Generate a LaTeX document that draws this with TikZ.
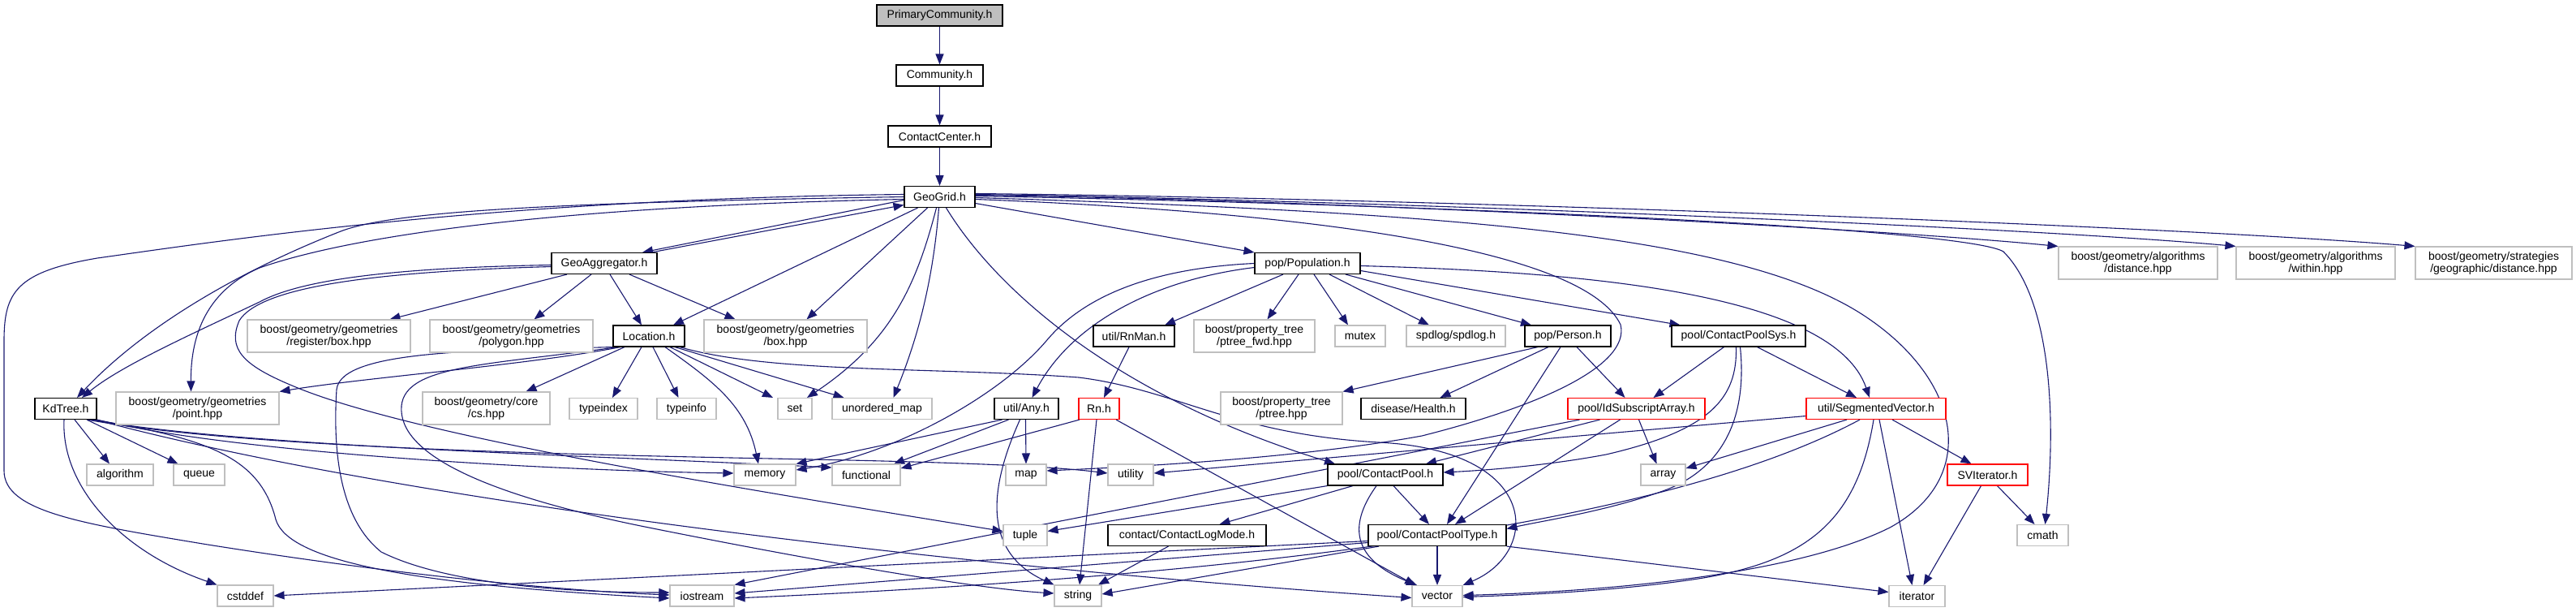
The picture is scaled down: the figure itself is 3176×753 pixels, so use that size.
\documentclass[tikz,border=0pt]{standalone}
\usepackage{fontspec}
\setmainfont{Liberation Sans}
\usetikzlibrary{arrows.meta}
\definecolor{edgeblue}{HTML}{191970}
\definecolor{extgrey}{HTML}{BFBFBF}
\definecolor{truncred}{HTML}{FF0000}
\definecolor{rootfill}{HTML}{BFBFBF}
\newcommand{\lab}{\fontsize{14}{15}\selectfont}
\pgfdeclarelayer{background}
\pgfsetlayers{background,main}
\begin{document}
\begin{tikzpicture}[x=1pt,y=-1pt,
  base/.style={draw, rectangle, inner sep=0pt, minimum height=26pt, fill=white, font=\lab, line width=1.1pt, align=center, text=black},
  doc/.style={base, draw=black},
  ext/.style={base, draw=extgrey},
  ext2/.style={ext, minimum height=40pt},
  trunc/.style={base, draw=truncred},
  e/.style={draw=edgeblue, line width=1.1pt, -{Triangle[length=13pt,width=10pt]}}]

% nodes
\node[doc, fill=rootfill, minimum width=155] (pc) at (1158.5,19) {PrimaryCommunity.h};
\node[doc, minimum width=107] (comm) at (1158.5,93) {Community.h};
\node[doc, minimum width=127] (cc) at (1158.5,168) {ContactCenter.h};
\node[doc, minimum width=87] (gg) at (1158.5,242.5) {GeoGrid.h};
\node[doc, minimum width=130] (ga) at (745,324.5) {GeoAggregator.h};
\node[doc, minimum width=130] (pop) at (1612,324.5) {pop/Population.h};
\node[ext2, minimum width=196] (dist) at (2636,324) {boost/geometry/algorithms\\/distance.hpp};
\node[ext2, minimum width=196] (within) at (2855,324) {boost/geometry/algorithms\\/within.hpp};
\node[ext2, minimum width=193] (strat) at (3074.5,324) {boost/geometry/strategies\\/geographic/distance.hpp};
\node[ext2, minimum width=201] (regbox) at (405.5,414) {boost/geometry/geometries\\/register/box.hpp};
\node[ext2, minimum width=201] (poly) at (630.5,414) {boost/geometry/geometries\\/polygon.hpp};
\node[doc, minimum width=88] (loc) at (800,414) {Location.h};
\node[ext2, minimum width=201] (box) at (968.5,414) {boost/geometry/geometries\\/box.hpp};
\node[doc, minimum width=100] (rnman) at (1398,414) {util/RnMan.h};
\node[ext2, minimum width=149] (ptfwd) at (1546.5,414) {boost/property\_tree\\/ptree\_fwd.hpp};
\node[ext, minimum width=62] (mutex) at (1677,414) {mutex};
\node[ext, minimum width=122] (spdlog) at (1795,414) {spdlog/spdlog.h};
\node[doc, minimum width=106] (person) at (1933,414) {pop/Person.h};
\node[doc, minimum width=165] (cps) at (2143.5,414) {pool/ContactPoolSys.h};
\node[doc, minimum width=76] (kd) at (81,503.5) {KdTree.h};
\node[ext2, minimum width=201] (point) at (243.5,503) {boost/geometry/geometries\\/point.hpp};
\node[ext2, minimum width=157] (cs) at (599.5,503) {boost/geometry/core\\/cs.hpp};
\node[ext, minimum width=84] (typeindex) at (744,503.5) {typeindex};
\node[ext, minimum width=73] (typeinfo) at (846.5,503.5) {typeinfo};
\node[ext, minimum width=42] (set) at (980,503.5) {set};
\node[ext, minimum width=123] (umap) at (1087.5,503.5) {unordered\_map};
\node[doc, minimum width=79] (any) at (1265.5,503.5) {util/Any.h};
\node[trunc, minimum width=50] (rn) at (1355,503.5) {Rn.h};
\node[ext2, minimum width=150] (ptree) at (1580,503) {boost/property\_tree\\/ptree.hpp};
\node[doc, minimum width=129] (health) at (1742.5,503.5) {disease/Health.h};
\node[trunc, minimum width=169] (isa) at (2017.5,503.5) {pool/IdSubscriptArray.h};
\node[trunc, minimum width=172] (sv) at (2313,503.5) {util/SegmentedVector.h};
\node[ext, minimum width=82] (algorithm) at (148,585) {algorithm};
\node[ext, minimum width=63] (queue) at (245.5,585) {queue};
\node[ext, minimum width=76] (memory) at (943,585) {memory};
\node[ext, minimum width=84] (functional) at (1068,585) {functional};
\node[ext, minimum width=50] (map) at (1265,585) {map};
\node[ext, minimum width=56] (utility) at (1394,585) {utility};
\node[doc, minimum width=142] (cp) at (1708,585) {pool/ContactPool.h};
\node[ext, minimum width=55] (array) at (2050.5,585) {array};
\node[trunc, minimum width=99] (svit) at (2450.5,585) {SVIterator.h};
\node[ext, minimum width=54] (tuple) at (1264,659.5) {tuple};
\node[doc, minimum width=195] (clm) at (1463.5,659.5) {contact/ContactLogMode.h};
\node[doc, minimum width=170] (cpt) at (1772,659.5) {pool/ContactPoolType.h};
\node[ext, minimum width=63] (cmath) at (2518.5,659.5) {cmath};
\node[ext, minimum width=69] (cstddef) at (302.5,734) {cstddef};
\node[ext, minimum width=79] (iostream) at (865.5,734) {iostream};
\node[ext, minimum width=58] (string) at (1329,734) {string};
\node[ext, minimum width=62] (vector) at (1772,734.5) {vector};
\node[ext, minimum width=69] (iterator) at (2363.5,734.5) {iterator};

\begin{pgfonlayer}{background}
\fill[white] (0,0) rectangle (3176,753);
% chain
\draw[e] (pc.south) -- (comm.north);
\draw[e] (comm.south) -- (cc.north);
\draw[e] (cc.south) -- (gg.north);
% GeoGrid
\draw[e] ([yshift=-4]gg.west) -- ([xshift=47]ga.north);
\draw[e] ([xshift=58]ga.north) -- ([yshift=-10]gg.west);
\draw[e] ([yshift=-8]gg.east) -- (pop.north west);
\draw[e] ([yshift=2]gg.east) .. controls (1600,245) and (2300,280) .. (dist.north west);
\draw[e] ([yshift=3]gg.east) .. controls (1700,247) and (2500,280) .. (within.north west);
\draw[e] ([yshift=4]gg.east) .. controls (1800,245) and (2700,280) .. (strat.north west);
\draw[e] ([yshift=1]gg.east) .. controls (1900,255) and (2430,285) .. (2470,310) .. controls (2530,370) and (2535,520) .. ([xshift=3]cmath.north);
\draw[e] ([yshift=-1]gg.east) .. controls (1800,262) and (2150,290) .. (2300,390) .. controls (2420,470) and (2440,590) .. (2330,650) .. controls (2220,705) and (2000,728) .. ([yshift=1]vector.east);
\draw[e] ([yshift=-3]gg.east) .. controls (1700,265) and (1960,320) .. (1998,400) .. controls (2010,450) and (1900,500) .. (1753,537) .. controls (1600,565) and (1400,575) .. ([yshift=5]map.east);
\draw[e] ([yshift=3]gg.west) .. controls (600,245) and (250,300) .. (120,318) .. controls (20,335) and (5,360) .. (5,420) -- (5,580) .. controls (5,630) and (100,645) .. (250,670) .. controls (500,710) and (700,728) .. ([yshift=1]iostream.west);
\draw[e] (gg.west) .. controls (650,250) and (480,262) .. (420,285) .. controls (280,340) and (170,410) .. ([xshift=14]kd.north);
\draw[e] ([yshift=-3]gg.west) .. controls (650,255) and (420,295) .. (320,330) .. controls (250,360) and (235,420) .. ([xshift=-8]point.north);
\draw[e] ([xshift=-27]gg.south) -- ([xshift=30]loc.north);
\draw[e] ([xshift=-15]gg.south) -- ([xshift=26]box.north);
\draw[e] ([xshift=-4]gg.south) .. controls (1130,350) and (1100,420) .. ([xshift=15]set.north);
\draw[e] ([xshift=-1]gg.south) .. controls (1150,350) and (1130,420) .. ([xshift=14]umap.north);
\draw[e] ([xshift=8]gg.south) .. controls (1230,360) and (1380,490) .. ([xshift=-62]cp.north);
% GeoAggregator
\draw[e] ([yshift=-2]ga.west) .. controls (480,330) and (370,345) .. (320,372) .. controls (240,410) and (150,450) .. ([xshift=20]kd.north);
\draw[e] ([yshift=-4]ga.west) .. controls (450,335) and (320,355) .. (295,395) .. controls (280,430) and (300,450) .. (360,475) .. controls (500,535) and (900,600) .. ([yshift=5]tuple.west);
\draw[e] ([xshift=-46]ga.south) -- ([xshift=75]regbox.north);
\draw[e] ([xshift=-16]ga.south) -- ([xshift=28]poly.north);
\draw[e] ([xshift=7]ga.south) -- ([xshift=-9]loc.north);
\draw[e] ([xshift=31]ga.south) -- ([xshift=-62]box.north);
% Population
\draw[e] (pop.west) .. controls (1430,330) and (1340,360) .. (1290,420) .. controls (1230,490) and (1100,560) .. ([yshift=6]memory.east);
\draw[e] ([yshift=-5]pop.west) .. controls (1420,345) and (1320,400) .. ([xshift=7]any.north);
\draw[e] ([xshift=-30]pop.south) -- ([xshift=38]rnman.north);
\draw[e] ([xshift=-11]pop.south) -- ([xshift=16]ptfwd.north);
\draw[e] ([xshift=8]pop.south) -- ([xshift=-15]mutex.north);
\draw[e] ([xshift=27]pop.south) -- ([xshift=-33]spdlog.north);
\draw[e] ([xshift=47]pop.south) -- ([xshift=-45]person.north);
\draw[e] ([yshift=-9]pop.east) -- ([xshift=-72]cps.north);
\draw[e] ([yshift=-3]pop.east) .. controls (1950,335) and (2260,360) .. ([xshift=-8]sv.north);
% Person
\draw[e] ([xshift=-37]person.south) -- (ptree.north east);
\draw[e] ([xshift=-24]person.south) -- ([xshift=33]health.north);
\draw[e] ([xshift=-9]person.south) -- ([xshift=12]cpt.north);
\draw[e] ([xshift=11]person.south) -- ([xshift=-14]isa.north);
% ContactPoolSys
\draw[e] ([xshift=-18]cps.south) -- ([xshift=21]isa.north);
\draw[e] ([xshift=-3]cps.south) .. controls (2142,490) and (2110,530) .. (1980,560) .. controls (1900,575) and (1820,580) .. ([yshift=3]cp.east);
\draw[e] ([xshift=2]cps.south) .. controls (2155,520) and (2120,580) .. (2050,605) .. controls (1980,630) and (1900,642) .. ([yshift=8]cpt.east);
\draw[e] ([xshift=23]cps.south) -- ([xshift=-24]sv.north);
% IdSubscriptArray
\draw[e] ([xshift=-45]isa.south) -- ([xshift=50]cp.north);
\draw[e] ([xshift=-20]isa.south) -- ([xshift=22]cpt.north);
\draw[e] ([xshift=3]isa.south) -- ([xshift=-8]array.north);
\draw[e] ([xshift=-70]isa.south) -- (iostream.north east);
% SegmentedVector
\draw[e] ([yshift=-9]sv.west) -- ([yshift=2]utility.east);
\draw[e] ([xshift=-36]sv.south) -- ([yshift=8]array.east);
\draw[e] ([xshift=-20]sv.south) .. controls (2120,610) and (1750,700) .. ([yshift=-3]iostream.east);
\draw[e] ([xshift=-3]sv.south) .. controls (2290,640) and (2230,690) .. (2100,712) .. controls (2000,728) and (1880,733) .. ([yshift=-1]vector.east);
\draw[e] ([xshift=4]sv.south) -- ([xshift=-6]iterator.north);
\draw[e] ([xshift=20]sv.south) -- ([xshift=-20]svit.north);
% SVIterator
\draw[e] ([xshift=-8]svit.south) -- ([xshift=8]iterator.north);
\draw[e] ([xshift=12]svit.south) -- ([xshift=-10]cmath.north);
% ContactPool
\draw[e] ([xshift=10]cp.south) -- ([xshift=-10]cpt.north);
\draw[e] ([xshift=-11]cp.south) .. controls (1660,650) and (1670,690) .. ([xshift=-25]vector.north);
\draw[e] (cp.south west) -- ([yshift=5]tuple.east);
\draw[e] ([xshift=-40]cp.south) -- ([xshift=40]clm.north);
% ContactLogMode
\draw[e] ([xshift=-23]clm.south) -- ([xshift=25]string.north);
% ContactPoolType
\draw[e] (cpt.south) -- (vector.north);
\draw[e] (cpt.south east) -- ([yshift=5]iterator.west);
\draw[e] ([yshift=-7]cpt.west) -- (cstddef.east);
\draw[e] ([yshift=-9]cpt.west) -- ([yshift=3]iostream.east);
\draw[e] ([xshift=-72]cpt.south) -- ([yshift=2]string.east);
% Rn
\draw[e] ([xshift=-24]rn.south) -- ([yshift=8]functional.east);
\draw[e] ([xshift=-3]rn.south) -- ([xshift=2]string.north);
\draw[e] ([xshift=21]rn.south) -- ([xshift=-27]vector.north);
\draw[e] ([xshift=-6]rnman.south) -- ([xshift=6]rn.north);
% Any
\draw[e] ([xshift=-30]any.south) -- (memory.north east);
\draw[e] ([xshift=-22]any.south) -- ([xshift=34]functional.north);
\draw[e] ([xshift=-1]any.south) -- (map.north);
\draw[e] ([xshift=-8]any.south) .. controls (1220,600) and (1210,680) .. (string.north west);
% KdTree
\draw[e] ([xshift=11]kd.south) -- ([xshift=-13]algorithm.north);
\draw[e] ([xshift=26]kd.south) -- ([xshift=-26]queue.north);
\draw[e] ([xshift=-2]kd.south) .. controls (75,600) and (150,680) .. (cstddef.north west);
\draw[e] (kd.south east) .. controls (300,560) and (700,580) .. ([yshift=2]memory.west);
\draw[e] ([xshift=-8]kd.south east) .. controls (300,550) and (700,560) .. ([yshift=9]functional.west);
\draw[e] ([xshift=-12]kd.south east) .. controls (300,552) and (700,560) .. (1000,566) .. controls (1200,570) and (1300,575) .. ([yshift=2]utility.west);
\draw[e] ([xshift=-2]kd.south east) .. controls (500,620) and (1200,700) .. ([yshift=-2]vector.west);
\draw[e] ([xshift=-4]kd.south east) .. controls (250,540) and (320,560) .. (340,640) .. controls (355,690) and (500,720) .. ([yshift=-3]iostream.west);
% Location
\draw[e] ([xshift=-35]loc.south) .. controls (650,450) and (450,465) .. (point.north east);
\draw[e] ([xshift=-30]loc.south) -- ([xshift=49]cs.north);
\draw[e] ([xshift=-9]loc.south) -- ([xshift=11]typeindex.north);
\draw[e] ([xshift=5]loc.south) -- ([xshift=-10]typeinfo.north);
\draw[e] ([xshift=20]loc.south) .. controls (880,470) and (920,500) .. ([xshift=-8]memory.north);
\draw[e] ([xshift=26]loc.south) -- ([xshift=-27]set.north);
\draw[e] ([xshift=32]loc.south) -- ([xshift=-47]umap.north);
\draw[e] ([xshift=38]loc.south) .. controls (950,460) and (1150,452) .. (1330,465) .. controls (1450,480) and (1520,535) .. (1700,545) .. controls (1900,555) and (1900,680) .. (vector.north east);
\draw[e] (loc.south west) .. controls (600,432) and (420,430) .. (415,480) .. controls (410,560) and (420,640) .. (470,680) .. controls (550,720) and (700,730) .. ([yshift=4]iostream.west);
\draw[e] ([xshift=-38]loc.south) .. controls (600,450) and (500,450) .. (495,500) .. controls (490,560) and (600,610) .. (800,650) .. controls (1000,690) and (1200,725) .. ([yshift=3]string.west);
\end{pgfonlayer}
\end{tikzpicture}
\end{document}
